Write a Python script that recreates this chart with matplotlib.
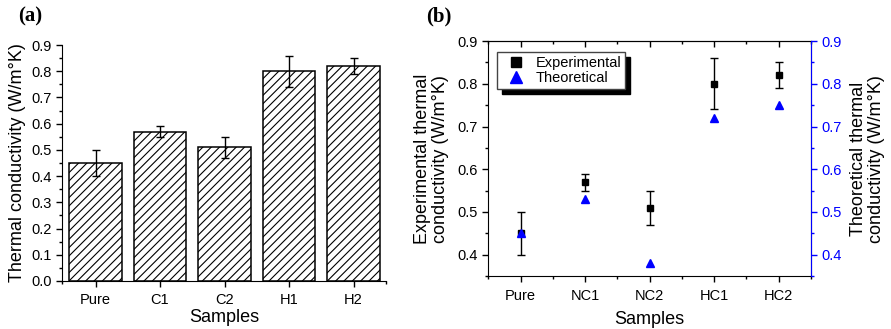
import matplotlib.pyplot as plt
import numpy as np
from matplotlib.ticker import MultipleLocator, FixedLocator
from matplotlib.lines import Line2D

plt.rcParams['font.family'] = ['Liberation Sans', 'DejaVu Sans']
plt.rcParams['hatch.linewidth'] = 0.8

# ---------------------------------------------------------------
# data
# ---------------------------------------------------------------
bar_labels = ['Pure', 'C1', 'C2', 'H1', 'H2']
pt_labels = ['Pure', 'NC1', 'NC2', 'HC1', 'HC2']
exp_vals = [0.45, 0.57, 0.51, 0.80, 0.82]
exp_err = [0.05, 0.02, 0.04, 0.06, 0.03]
theo_vals = [0.45, 0.53, 0.38, 0.72, 0.75]

fig = plt.figure(figsize=(8.91, 3.29), dpi=100)

# ---------------------------------------------------------------
# panel (a): hatched bars
# ---------------------------------------------------------------
ax1 = fig.add_axes([0.0696, 0.146, 0.3634, 0.717])
x = np.arange(len(bar_labels))
ax1.bar(x, exp_vals, width=0.81, color='white', edgecolor='black',
        linewidth=1.1, hatch='////', yerr=exp_err, capsize=3,
        error_kw=dict(elinewidth=1, capthick=1, ecolor='black'))
ax1.set_xlim(-0.52, 4.5)
ax1.set_ylim(0, 0.9)
ax1.set_xticks(x)
ax1.set_xticklabels(bar_labels, fontsize=10.5)
ax1.xaxis.set_minor_locator(FixedLocator([-0.52, 4.5]))
ax1.yaxis.set_major_locator(MultipleLocator(0.1))
ax1.yaxis.set_minor_locator(MultipleLocator(0.05))
ax1.set_yticklabels([f'{v:.1f}' for v in ax1.get_yticks()], fontsize=10.5)
for s in ['top', 'right']:
    ax1.spines[s].set_visible(False)
ax1.tick_params(which='major', direction='out', length=4, width=1)
ax1.tick_params(which='minor', direction='out', length=2.5, width=1)
ax1.tick_params(axis='x', pad=5)
ax1.set_xlabel('Samples', fontsize=13, labelpad=1)
ax1.set_ylabel('Thermal conductivity (W/m°K)', fontsize=13, labelpad=4)
fig.text(0.034, 0.95, '(a)', fontsize=15, fontweight='bold',
         family='Liberation Serif', ha='center', va='center')

# ---------------------------------------------------------------
# panel (b): experimental vs theoretical
# ---------------------------------------------------------------
ax2 = fig.add_axes([0.548, 0.161, 0.362, 0.714])
xp = np.arange(len(pt_labels))
ax2.errorbar(xp, exp_vals, yerr=exp_err, fmt='s', color='black',
             markersize=4.5, capsize=3, elinewidth=1, capthick=1, zorder=3)
ax3 = ax2.twinx()
ax3.plot(xp, theo_vals, '^', color='blue', markersize=5.5, zorder=4)

for a in (ax2, ax3):
    a.set_xlim(-0.5, 4.5)
    a.set_ylim(0.35, 0.9)
    a.yaxis.set_major_locator(MultipleLocator(0.1))
    a.yaxis.set_minor_locator(MultipleLocator(0.05))
ax2.set_xticks(xp)
ax2.set_xticklabels(pt_labels, fontsize=10.5)
ax2.xaxis.set_minor_locator(MultipleLocator(0.5))
ax2.set_yticklabels([f'{v:.1f}' for v in ax2.get_yticks()], fontsize=10.5)
ax3.set_yticklabels([f'{v:.1f}' for v in ax3.get_yticks()], fontsize=10.5,
                    color='blue')
ax2.tick_params(which='major', direction='out', length=4, width=1)
ax2.tick_params(which='minor', direction='out', length=2.5, width=1)
ax2.tick_params(axis='x', pad=5)
ax3.tick_params(which='major', direction='out', length=4, width=1, colors='blue')
ax3.tick_params(which='minor', direction='out', length=2.5, width=1, colors='blue')
ax3.spines['right'].set_color('blue')
for s in ['left', 'top', 'bottom']:
    ax3.spines[s].set_visible(False)

# top ticks point inward
top = ax2.secondary_xaxis('top')
top.set_xticks(xp)
top.xaxis.set_minor_locator(MultipleLocator(0.5))
top.tick_params(which='major', direction='in', length=4, width=1, labeltop=False)
top.tick_params(which='minor', direction='in', length=2.5, width=1)

ax2.set_xlabel('Samples', fontsize=13, labelpad=6)
ax2.set_ylabel('Experimental thermal\nconductivity (W/m°K)', fontsize=13,
               labelpad=6, linespacing=1.05)
ax3.set_ylabel('Theoretical thermal\nconductivity (W/m°K)', fontsize=13,
               labelpad=6, linespacing=1.05)

handles = [Line2D([], [], ls='none', marker='s', color='black', markersize=7),
           Line2D([], [], ls='none', marker='^', color='blue', markersize=8)]
leg = ax2.legend(handles, ['Experimental', 'Theoretical'], loc='upper left',
                 bbox_to_anchor=(0.028, 0.953), borderaxespad=0,
                 fontsize=10.5, frameon=True, fancybox=False,
                 shadow={'color': 'black', 'alpha': 1, 'ox': 3.5, 'oy': -3.5},
                 handletextpad=0.4, borderpad=0.25, labelspacing=0.1,
                 handlelength=2.0)
leg.get_frame().set_edgecolor('#444444')
leg.get_frame().set_linewidth(1)

fig.text(0.492, 0.95, '(b)', fontsize=15, fontweight='bold',
         family='Liberation Serif', ha='center', va='center')

fig.savefig('out.png', dpi=100)
